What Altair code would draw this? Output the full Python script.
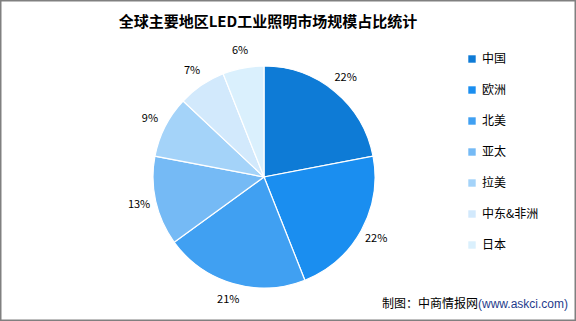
import altair as alt
import pandas as pd

regions = ["中国", "欧洲", "北美", "亚太", "拉美", "中东&非洲", "日本"]
shares = [22, 22, 21, 13, 9, 7, 6]
colors = ["#0E7BD6", "#1A8EF0", "#40A0F2", "#75BAF5", "#A4D3F9", "#D2E9FC", "#DAF0FD"]
title_text = "全球主要地区LED工业照明市场规模占比统计"
source_a = "制图：中商情报网"
source_b = "(www.askci.com)"

FONT = "Noto Sans CJK SC"

df = pd.DataFrame({
    "region": regions,
    "value": shares,
    "idx": list(range(len(regions))),
    "label": [f"{v}%" for v in shares],
})

cx, cy = 264, 177

base = alt.Chart(df)

arcs = base.mark_arc(outerRadius=111, stroke="white", strokeWidth=1.2).encode(
    theta=alt.Theta("value:Q", stack=True),
    color=alt.Color(
        "region:N",
        scale=alt.Scale(domain=regions, range=colors),
        sort=regions,
        legend=alt.Legend(
            title=None,
            orient="none",
            legendX=466,
            legendY=53,
            symbolType="square",
            symbolSize=55,
            symbolStrokeWidth=0,
            labelFont=FONT,
            labelFontSize=12,
            labelColor="#000000",
            rowPadding=19,
            labelOffset=4,
        ),
    ),
    order=alt.Order("idx:Q"),
    x=alt.value(cx),
    y=alt.value(cy),
)

labels = base.mark_text(radius=128, font=FONT, fontSize=11, color="#000000").encode(
    theta=alt.Theta("value:Q", stack=True),
    text="label:N",
    order=alt.Order("idx:Q"),
    x=alt.value(cx),
    y=alt.value(cy),
)

title = alt.Chart(pd.DataFrame({"t": [title_text]})).mark_text(
    font=FONT, fontSize=15, fontWeight="bold", color="#000000", align="center", baseline="middle"
).encode(text="t:N", x=alt.value(268), y=alt.value(22))

src1 = alt.Chart(pd.DataFrame({"t": [source_a]})).mark_text(
    font=FONT, fontSize=12, color="#000000", align="right", baseline="middle"
).encode(text="t:N", x=alt.value(478), y=alt.value(304))

src2 = alt.Chart(pd.DataFrame({"t": [source_b]})).mark_text(
    font="Liberation Sans", fontSize=12, color="#1F3C8C", align="left", baseline="middle"
).encode(text="t:N", x=alt.value(478), y=alt.value(304))

chart = alt.layer(arcs, labels, title, src1, src2).properties(
    width=576, height=321, padding=0, autosize=alt.AutoSizeParams(type="none"),
    background="white",
).configure_view(stroke="#808080", strokeWidth=3)

chart.save("out.html", embed_options={"renderer": "svg", "actions": False})
